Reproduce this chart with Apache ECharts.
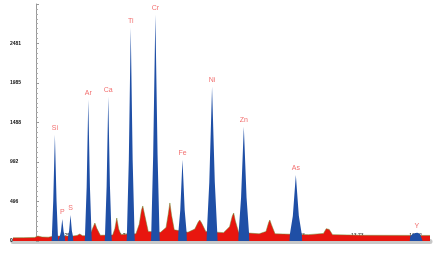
<!DOCTYPE html>
<html>
<head>
<meta charset="utf-8">
<script src="https://cdn.jsdelivr.net/npm/echarts@6/dist/echarts.min.js"></script>
<style>html,body{margin:0;padding:0;background:#fff}#c{width:435px;height:259px}</style>
</head>
<body>
<div id="c"></div>
<script>
// Identified elements (labels), Kα energies (keV) and peak tip counts
const elements = ['Si','P','S','Ar','Ca','Ti','Cr','Fe','Ni','Zn','As','Y'];
const elementEnergy = [1.74,2.01,2.31,2.96,3.69,4.51,5.41,6.40,7.48,8.64,10.54,14.96];
const elementPeak = [1333,277,327,1774,1811,2679,2843,1019,1937,1434,830,100];

// Blue (identified) peak profiles [keV, counts]
const bluePeaks = [
  [[1.62,0],[1.63,70],[1.68,507],[1.74,1333],[1.80,507],[1.85,70],[1.86,0]],
  [[1.91,0],[1.92,60],[1.96,115],[2.01,277],[2.06,115],[2.10,60],[2.11,0]],
  [[2.21,0],[2.22,60],[2.26,130],[2.31,327],[2.36,130],[2.40,60],[2.41,0]],
  [[2.83,0],[2.84,70],[2.90,675],[2.96,1774],[3.02,675],[3.08,70],[3.09,0]],
  [[3.56,0],[3.57,70],[3.63,690],[3.69,1811],[3.75,690],[3.81,70],[3.82,0]],
  [[4.36,0],[4.37,80],[4.44,1020],[4.51,2679],[4.58,1020],[4.65,80],[4.66,0]],
  [[5.25,0],[5.26,100],[5.33,1080],[5.41,2843],[5.49,1080],[5.56,100],[5.57,0]],
  [[6.24,0],[6.25,110],[6.32,390],[6.40,1019],[6.48,390],[6.55,110],[6.56,0]],
  [[7.28,0],[7.29,110],[7.38,740],[7.48,1937],[7.58,740],[7.67,110],[7.68,0]],
  [[8.44,0],[8.45,100],[8.54,545],[8.64,1434],[8.74,545],[8.83,100],[8.84,0]],
  [[10.31,0],[10.32,80],[10.43,315],[10.54,830],[10.65,315],[10.76,80],[10.77,0]],
  [[14.70,0],[14.72,60],[14.80,85],[14.90,100],[14.98,105],[15.08,85],[15.15,60],[15.17,0]]
];

// Red continuum / unassigned spectrum [keV, counts]
const redSpectrum = [
  [0.21,40],[0.6,42],[1.0,45],[1.12,62],[1.19,70],[1.27,50],[1.5,48],[1.62,55],
  [1.9,62],[2.4,62],[2.55,70],[2.65,88],[2.75,66],[2.95,66],[3.05,100],[3.15,185],
  [3.20,226],[3.27,160],[3.40,72],[3.85,75],[3.93,155],[4.00,289],[4.07,150],[4.15,82],
  [4.70,90],[4.82,210],[4.90,385],[4.95,440],[5.02,325],[5.15,120],[5.60,110],[5.80,170],
  [5.88,335],[5.94,478],[6.00,325],[6.10,140],[6.6,110],[6.85,150],[6.97,235],[7.03,264],
  [7.10,225],[7.25,120],[7.9,105],[8.12,180],[8.22,315],[8.27,352],[8.33,255],[8.45,110],
  [9.2,90],[9.45,120],[9.55,235],[9.59,264],[9.65,205],[9.78,90],[11.0,80],[11.55,95],
  [11.65,155],[11.70,176],[11.76,145],[11.88,80],[13.0,72],[15.44,70]
];

// Axis tick labels
const xTickValues = [1.25,3.74,6.24,8.74,11.23,13.73,16.22];
const yMax = 2976.8;

const blueData = [].concat(...bluePeaks);
const labelData = elementEnergy.map((e,i)=>[e, elementPeak[i]]);

const chart = echarts.init(document.getElementById('c'), null, {renderer:'canvas'});
chart.setOption({
  animation:false,
  backgroundColor:'#fff',
  textStyle:{fontFamily:'Liberation Sans, Arial, sans-serif'},
  grid:{left:13, right:5, top:4, bottom:18},
  xAxis:[
    {type:'value', min:0.21, max:15.44, offset:3,
     axisLine:{show:true, lineStyle:{color:'#c8c8c8', width:5}},
     axisTick:{show:false}, axisLabel:{show:false}, splitLine:{show:false}},
    {type:'value', min:-0.983, max:16.84, position:'bottom',
     axisLine:{show:false}, axisTick:{show:false}, splitLine:{show:false},
     axisLabel:{inside:true, customValues:xTickValues, fontSize:5, color:'#111', margin:3,
       formatter:v=>v.toFixed(2)}}
  ],
  yAxis:{type:'value', min:0, max:yMax, interval:yMax/6, offset:6,
    axisLine:{show:true, lineStyle:{color:'#999', width:1}},
    axisTick:{show:true, inside:true, length:3, lineStyle:{color:'#999'}},
    minorTick:{show:true, splitNumber:8, length:2, lineStyle:{color:'#aaa'}},
    splitLine:{show:false},
    axisLabel:{inside:true, fontSize:5, fontWeight:'bold', color:'#111', margin:3,
      showMaxLabel:false, formatter:v=>String(Math.round(v))}
  },
  series:[
    {type:'line', xAxisIndex:0, data:redSpectrum, symbol:'none', z:2,
     lineStyle:{color:'#6b8a2e', width:0.5},
     areaStyle:{color:'#e8160f', opacity:1}},
    {type:'line', xAxisIndex:0, data:blueData, symbol:'none', z:3,
     lineStyle:{width:0},
     areaStyle:{color:'#1f4fa6', opacity:1}},
    {type:'scatter', xAxisIndex:0, data:labelData, symbolSize:0, z:4,
     label:{show:true, position:'top', distance:3, fontSize:7, color:'#ef4a4a',
       formatter:p=>elements[p.dataIndex]}}
  ]
});
</script>
</body>
</html>
